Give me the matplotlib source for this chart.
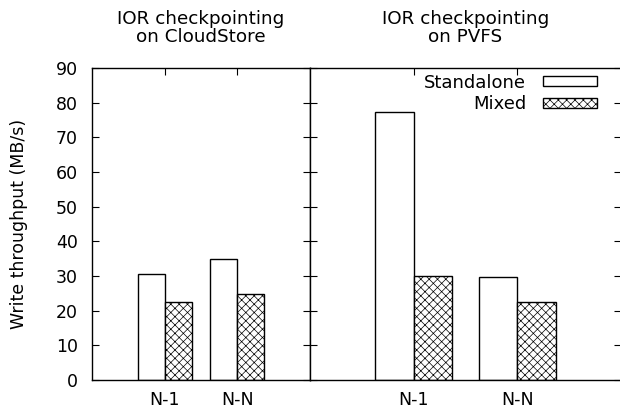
import numpy as np
import matplotlib
matplotlib.use('Agg')
import matplotlib.pyplot as plt

plt.rcParams['font.family'] = ['DejaVu Sans']
plt.rcParams['hatch.linewidth'] = 0.5

# data
modes      = ['N-1', 'N-N']
titles     = ['IOR checkpointing\non CloudStore', 'IOR checkpointing\non PVFS']
standalone = [[30.5, 34.9], [77.4, 29.8]]
mixed      = [[22.4, 24.8], [30.1, 22.5]]

fig = plt.figure(figsize=(6.2, 4.12), dpi=100)
bottom, top = 1 - 380/412., 1 - 68/412.
ax1 = fig.add_axes([92/620., bottom, (310-92)/620., top - bottom])
ax2 = fig.add_axes([310/620., bottom, (621-310)/620., top - bottom])

w = 0.37
x = np.arange(len(modes))
for i, ax in enumerate([ax1, ax2]):
    ax.bar(x - w/2, standalone[i], w, color='white', edgecolor='black',
           linewidth=1.0, label='Standalone')
    ax.bar(x + w/2, mixed[i], w, color='white', edgecolor='black',
           linewidth=1.0, hatch='xxxx', label='Mixed')
    ax.set_xlim(-1, 2)
    ax.set_ylim(0, 90)
    ax.set_xticks(x)
    ax.set_xticklabels(modes, fontsize=12.5)
    ax.set_yticks(range(0, 91, 10))
    ax.tick_params(direction='in', length=5, width=0.8, top=True, right=True,
                   left=True, bottom=True, pad=8)
    for s in ax.spines.values():
        s.set_linewidth(1.0)
    ax.set_title(titles[i], fontsize=13.2, linespacing=0.95, pad=19)

ax1.set_yticklabels([str(v) for v in range(0, 91, 10)], fontsize=12.5)
ax1.tick_params(axis='y', pad=10)
ax2.set_yticklabels([])
ax1.set_ylabel('Write throughput (MB/s)', fontsize=12.5, labelpad=20)

ax2.legend(loc='upper right', bbox_to_anchor=(0.945, 1.005), frameon=False,
           markerfirst=False, fontsize=13, handlelength=3.0, handleheight=0.45,
           handletextpad=0.9, labelspacing=0.2, borderaxespad=0)

fig.savefig('out.png', dpi=100)
